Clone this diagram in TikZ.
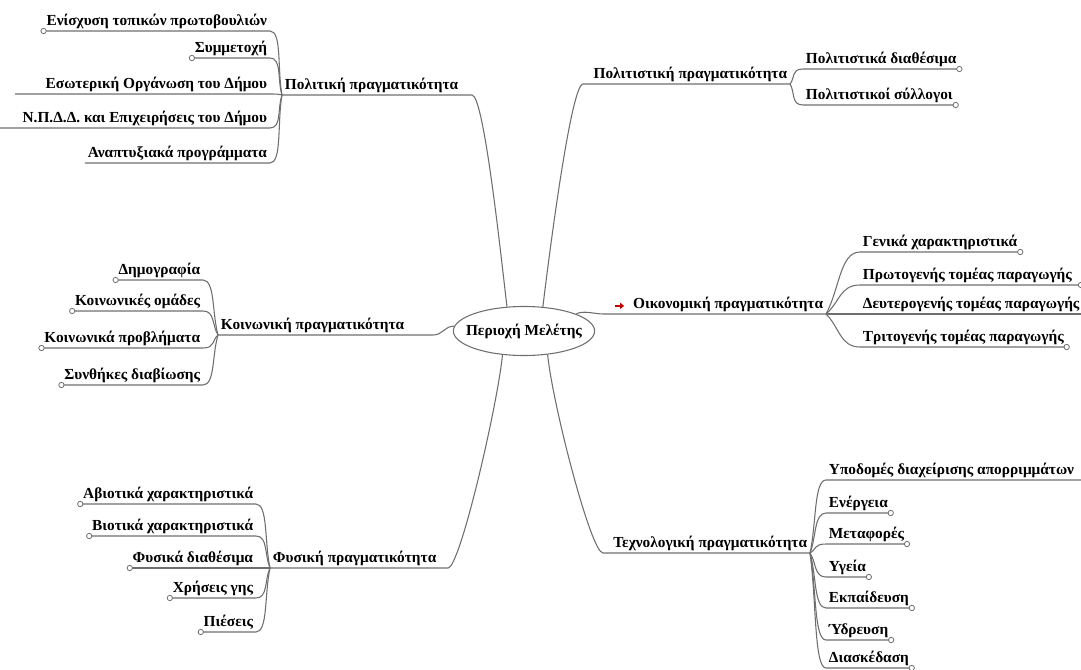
\documentclass[tikz,border=0pt]{standalone}
\usepackage{fontspec}
\setmainfont{Liberation Serif}
\usepackage{tikz}
\usetikzlibrary{calc,shapes.geometric,arrows.meta}
\definecolor{linegray}{RGB}{110,110,110}
\tikzset{Hub/.style={ellipse,draw=linegray,line width=0.8pt,inner xsep=-6pt,inner ysep=7.5pt,font=\fontsize{11.5}{13}\selectfont\bfseries}}
\tikzset{Br/.style={inner xsep=2pt,inner ysep=1pt,text depth=2.6pt,font=\fontsize{11.5}{14}\selectfont\bfseries}}
\tikzset{Dot/.style={circle,draw=linegray,fill=white,line width=0.6pt,inner sep=0pt,minimum size=4pt}}
\tikzset{fan/.style={to path={.. controls ($(\tikztostart)!.4!(\tikztotarget)$) and ($(\tikztotarget)+(#1,0)$) .. (\tikztotarget) \tikztonodes}}}

\begin{document}
\begin{tikzpicture}[x=0.75pt,y=-0.75pt]
    \useasboundingbox (0,0) rectangle (1081,670);
    \node[Hub] (C) at (524,331) {Περιοχή Μελέτης};
    % Πολιτική
    \coordinate (PolJ) at (282,95);
    \coordinate (PolS) at (472,95);
    \node[Br,anchor=south west] (Pol) at (PolJ) {Πολιτική πραγματικότητα};
    \node[Br,anchor=south east] (Pol1) at (270,31) {Ενίσχυση τοπικών πρωτοβουλιών};
    \node[Br,anchor=south east] (Pol2) at (270,58) {Συμμετοχή};
    \node[Br,anchor=south east] (Pol3) at (270,94) {Εσωτερική Οργάνωση του Δήμου};
    \node[Br,anchor=south east] (Pol4) at (270,128) {Ν.Π.Δ.Δ. και Επιχειρήσεις του Δήμου};
    \node[Br,anchor=south east] (Pol5) at (270,163) {Αναπτυξιακά προγράμματα};
    \coordinate (Pol3e) at (15,94);
    \coordinate (Pol4e) at (0,128);
    % Πολιτιστική
    \coordinate (PlsJ) at (790,84);
    \coordinate (PlsS) at (583,84);
    \node[Br,anchor=south east] (Pls) at (PlsJ) {Πολιτιστική πραγματικότητα};
    \node[Br,anchor=south west] (Pls1) at (803,69) {Πολιτιστικά διαθέσιμα};
    \node[Br,anchor=south west] (Pls2) at (803,105) {Πολιτιστικοί σύλλογοι};
    % Οικονομική
    \coordinate (OikJ) at (826,314);
    \coordinate (OikS) at (603,314);
    \node[Br,anchor=south east] (Oik) at (OikJ) {Οικονομική πραγματικότητα};
    \node[Br,anchor=south west] (Oik1) at (860,252) {Γενικά χαρακτηριστικά};
    \node[Br,anchor=south west] (Oik2) at (860,285) {Πρωτογενής τομέας παραγωγής};
    \node[Br,anchor=south west] (Oik3) at (860,314) {Δευτερογενής τομέας παραγωγής};
    \node[Br,anchor=south west] (Oik4) at (860,347) {Τριτογενής τομέας παραγωγής};
    \coordinate (Oik2e) at (1081,285);
    \coordinate (Oik3e) at (1081,314);
    % Κοινωνική
    \coordinate (KoiJ) at (218,335);
    \coordinate (KoiS) at (433,335);
    \node[Br,anchor=south west] (Koi) at (KoiJ) {Κοινωνική πραγματικότητα};
    \node[Br,anchor=south east] (Koi1) at (203,280) {Δημογραφία};
    \node[Br,anchor=south east] (Koi2) at (203,311) {Κοινωνικές ομάδες};
    \node[Br,anchor=south east] (Koi3) at (203,348) {Κοινωνικά προβλήματα};
    \node[Br,anchor=south east] (Koi4) at (203,385) {Συνθήκες διαβίωσης};
    % Φυσική
    \coordinate (FysJ) at (270,568);
    \coordinate (FysS) at (448,568);
    \node[Br,anchor=south west] (Fys) at (FysJ) {Φυσική πραγματικότητα};
    \node[Br,anchor=south east] (Fys1) at (256,504) {Αβιοτικά χαρακτηριστικά};
    \node[Br,anchor=south east] (Fys2) at (256,536) {Βιοτικά χαρακτηριστικά};
    \node[Br,anchor=south east] (Fys3) at (256,568) {Φυσικά διαθέσιμα};
    \node[Br,anchor=south east] (Fys4) at (256,598) {Χρήσεις γης};
    \node[Br,anchor=south east] (Fys5) at (256,632) {Πιέσεις};
    % Τεχνολογική
    \coordinate (TexJ) at (810,553);
    \coordinate (TexS) at (603,553);
    \node[Br,anchor=south east] (Tex) at (TexJ) {Τεχνολογική πραγματικότητα};
    \node[Br,anchor=south west] (Tex1) at (826,480) {Υποδομές διαχείρισης απορριμμάτων};
    \node[Br,anchor=south west] (Tex2) at (826,513) {Ενέργεια};
    \node[Br,anchor=south west] (Tex3) at (826,544) {Μεταφορές};
    \node[Br,anchor=south west] (Tex4) at (826,577) {Υγεία};
    \node[Br,anchor=south west] (Tex5) at (826,608) {Εκπαίδευση};
    \node[Br,anchor=south west] (Tex6) at (826,640) {Ύδρευση};
    \node[Br,anchor=south west] (Tex7) at (826,668) {Διασκέδαση};
    \coordinate (Tex1e) at (1081,480);
    \begin{scope}[linegray,line width=0.8pt]
      \draw (C.125) .. controls +(-6,-50) and +(12,0) .. (PolS) -- (PolJ);
      \draw (C.52) .. controls +(6,-50) and +(-12,0) .. (PlsS) -- (PlsJ);
      \draw (C.18) .. controls +(6,-4) and +(-8,0) .. (OikS) -- (OikJ);
      \draw (C.176) .. controls +(-10,0) and +(10,0) .. (KoiS) -- (KoiJ);
      \draw (C.228) .. controls +(-5,50) and +(12,0) .. (FysS) -- (FysJ);
      \draw (C.315) .. controls +(5,50) and +(-12,0) .. (TexS) -- (TexJ);
      \draw (PolJ) to[fan=12] (Pol1.south east) -- (Pol1.south west) node[Dot] {};
      \draw (PolJ) to[fan=12] (Pol2.south east) -- (Pol2.south west) node[Dot] {};
      \draw (PolJ) to[fan=12] (Pol3.south east) -- (Pol3e);
      \draw (PolJ) to[fan=12] (Pol4.south east) -- (Pol4e);
      \draw (PolJ) to[fan=12] (Pol5.south east) -- (Pol5.south west);
      \draw (PlsJ) to[fan=-12] (Pls1.south west) -- (Pls1.south east) node[Dot] {};
      \draw (PlsJ) to[fan=-12] (Pls2.south west) -- (Pls2.south east) node[Dot] {};
      \draw (OikJ) to[fan=-20] (Oik1.south west) -- (Oik1.south east) node[Dot] {};
      \draw (OikJ) to[fan=-20] (Oik2.south west) -- (Oik2e) node[Dot] {};
      \draw (OikJ) to[fan=-20] (Oik3.south west) -- (Oik3e);
      \draw (OikJ) to[fan=-20] (Oik4.south west) -- (Oik4.south east) node[Dot] {};
      \draw (KoiJ) to[fan=12] (Koi1.south east) -- (Koi1.south west) node[Dot] {};
      \draw (KoiJ) to[fan=12] (Koi2.south east) -- (Koi2.south west) node[Dot] {};
      \draw (KoiJ) to[fan=12] (Koi3.south east) -- (Koi3.south west) node[Dot] {};
      \draw (KoiJ) to[fan=12] (Koi4.south east) -- (Koi4.south west) node[Dot] {};
      \draw (FysJ) to[fan=12] (Fys1.south east) -- (Fys1.south west) node[Dot] {};
      \draw (FysJ) to[fan=12] (Fys2.south east) -- (Fys2.south west) node[Dot] {};
      \draw (FysJ) to[fan=12] (Fys3.south east) -- (Fys3.south west) node[Dot] {};
      \draw (FysJ) to[fan=12] (Fys4.south east) -- (Fys4.south west) node[Dot] {};
      \draw (FysJ) to[fan=12] (Fys5.south east) -- (Fys5.south west) node[Dot] {};
      \draw (TexJ) to[fan=-12] (Tex1.south west) -- (Tex1e);
      \draw (TexJ) to[fan=-12] (Tex2.south west) -- (Tex2.south east) node[Dot] {};
      \draw (TexJ) to[fan=-12] (Tex3.south west) -- (Tex3.south east) node[Dot] {};
      \draw (TexJ) to[fan=-12] (Tex4.south west) -- (Tex4.south east) node[Dot] {};
      \draw (TexJ) to[fan=-12] (Tex5.south west) -- (Tex5.south east) node[Dot] {};
      \draw (TexJ) to[fan=-12] (Tex6.south west) -- (Tex6.south east) node[Dot] {};
      \draw (TexJ) to[fan=-12] (Tex7.south west) -- (Tex7.south east) node[Dot] {};
    \end{scope}
    \draw[red!75!black,line width=1.5pt,-{Triangle[width=4.5pt,length=3pt]}] ($(Oik.mid west)+(-15,0)$) -- ++(9,0);
  \end{tikzpicture}
\end{document}
